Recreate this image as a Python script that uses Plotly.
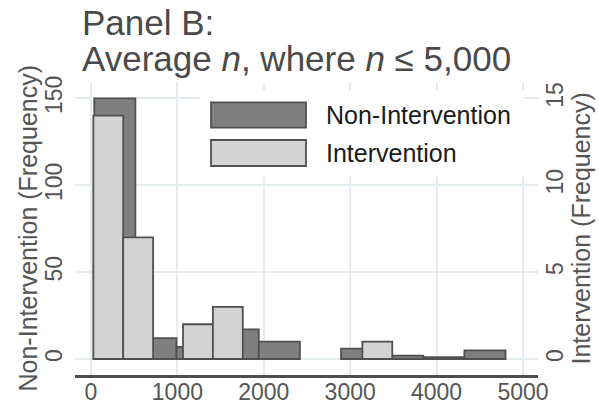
import plotly.graph_objects as go

# Histogram bins (value axis = average n)
nonint_start = 38
nonint_width = 476
nonint_counts = [150, 12, 7, 17, 10, 0, 6, 2, 1, 5]

int_start = 27
int_width = 346
int_counts = [14, 7, 0, 2, 3, 0, 0, 0, 0, 1]

x_ticks = [0, 1000, 2000, 3000, 4000, 5000]
y_left_ticks = [0, 50, 100, 150]
y_right_ticks = [0, 5, 10, 15]

nonint_centers = [nonint_start + nonint_width * (i + 0.5) for i in range(len(nonint_counts))]
int_centers = [int_start + int_width * (i + 0.5) for i in range(len(int_counts))]


def hide_empty(counts):
    # empty bins are left blank instead of drawing an outline on the baseline
    return [c if c else None for c in counts]


W, H = 599, 405
ML, MR, MT, MB = 75, 61, 82, 30
PW, PH = W - ML - MR, H - MT - MB


def px_x(px):
    return (px - ML) / PW


def px_y(py):
    return (H - MB - py) / PH


FONT = "Liberation Sans, Arial, Helvetica, sans-serif"
GRID = "#e4ecf0"
EDGE = "#505050"
DARK = "#7f7f7f"
LIGHT = "#d3d3d3"

fig = go.Figure()
fig.add_trace(go.Bar(
    x=nonint_centers, y=hide_empty(nonint_counts), width=nonint_width,
    marker=dict(color=DARK, line=dict(color=EDGE, width=1.8)),
    name="Non-Intervention", yaxis="y",
))
fig.add_trace(go.Bar(
    x=int_centers, y=hide_empty(int_counts), width=int_width,
    marker=dict(color=LIGHT, line=dict(color=EDGE, width=1.8)),
    name="Intervention", yaxis="y2",
))

y_lo, y_hi = -9.2, 159.4

fig.update_layout(
    width=W, height=H,
    margin=dict(l=ML, r=MR, t=MT, b=MB),
    paper_bgcolor="white", plot_bgcolor="white",
    barmode="overlay", showlegend=False,
    font=dict(family=FONT, color="#555555"),
    xaxis=dict(
        range=[-185, 5174], tickvals=x_ticks, ticks="",
        showgrid=True, gridcolor=GRID, gridwidth=1.5,
        showline=True, linecolor="#4d4d4d", linewidth=3,
        zeroline=False, tickfont=dict(size=23, color="#555555"),
        ticklabelstandoff=-6, automargin=False,
    ),
    yaxis=dict(
        range=[y_lo, y_hi], tickvals=y_left_ticks, ticks="", tickangle=-90,
        showgrid=True, gridcolor=GRID, gridwidth=1.5,
        showline=False, zeroline=False, ticklabelstandoff=7,
        tickfont=dict(size=23, color="#555555"), automargin=False,
    ),
    yaxis2=dict(
        range=[y_lo / 10, y_hi / 10], tickvals=y_right_ticks, ticks="", tickangle=-90,
        overlaying="y", side="right", showgrid=False,
        showline=False, zeroline=False, ticklabelstandoff=1,
        tickfont=dict(size=23, color="#555555"), automargin=False,
    ),
)

# Legend drawn as wide swatches on a white panel
shapes = [
    dict(type="rect", xref="paper", yref="paper", layer="above",
         x0=px_x(200), x1=px_x(524), y0=px_y(177), y1=px_y(90),
         fillcolor="white", line=dict(width=0)),
    dict(type="rect", xref="paper", yref="paper", layer="above",
         x0=px_x(211), x1=px_x(306), y0=px_y(127.7), y1=px_y(102.3),
         fillcolor=DARK, line=dict(color=EDGE, width=1.8)),
    dict(type="rect", xref="paper", yref="paper", layer="above",
         x0=px_x(211), x1=px_x(306), y0=px_y(166), y1=px_y(140),
         fillcolor=LIGHT, line=dict(color=EDGE, width=1.8)),
]
fig.update_layout(shapes=shapes)

annotations = [
    dict(text="Non-Intervention", x=px_x(324), y=px_y(115), xanchor="left", yanchor="middle",
         font=dict(size=25, color="#1a1a1a")),
    dict(text="Intervention", x=px_x(324), y=px_y(153), xanchor="left", yanchor="middle",
         font=dict(size=25, color="#1a1a1a")),
    dict(text="Panel B:", x=px_x(80), y=px_y(23), xanchor="left", yanchor="middle",
         font=dict(size=35, color="#4a4a4a")),
    dict(text="Average <i>n</i>, where <i>n</i> ≤ 5,000", x=px_x(80), y=px_y(59),
         xanchor="left", yanchor="middle", font=dict(size=35, color="#4a4a4a")),
    dict(text="Non-Intervention (Frequency)", x=px_x(27), y=0.5, textangle=-90,
         xanchor="center", yanchor="middle", font=dict(size=25, color="#555555")),
    dict(text="Intervention (Frequency)", x=px_x(580), y=0.5, textangle=-90,
         xanchor="center", yanchor="middle", font=dict(size=25, color="#555555")),
]
for a in annotations:
    a.update(xref="paper", yref="paper", showarrow=False)
fig.update_layout(annotations=annotations)

fig.write_html("out.html")
